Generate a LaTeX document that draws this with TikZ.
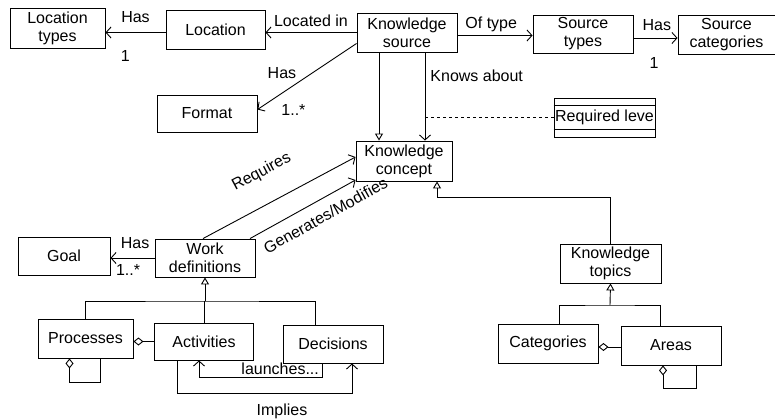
\documentclass[tikz,border=0pt]{standalone}
\usepackage{fontspec}
\setmainfont{Liberation Sans}
\usetikzlibrary{arrows.meta,positioning}

\begin{document}
\begin{tikzpicture}[x=1pt, y=-1pt, line width=0.9pt,
    classe/.style={draw, align=center, minimum width=100pt, minimum height=38pt,
      inner sep=1pt, font=\fontsize{16}{18}\selectfont},
    rot/.style={inner sep=1pt, font=\fontsize{16}{18}\selectfont},
    assoc/.style={-{Straight Barb[length=5pt,width=11pt]}},
    heranca/.style={-{Triangle[open,length=7pt,width=8pt]}},
    agreg/.style={{Diamond[open,length=10pt,width=8pt]}-}]
    \useasboundingbox (0,0) rectangle (775,419);
    % classes de cima
    \node[classe, minimum width=95pt, minimum height=40pt] (loctipos) at (57.5,28) {Location\\types};
    \node[classe, minimum width=99pt, minimum height=39pt] (loc) at (215.5,30) {Location};
    \node[classe, minimum height=39pt] (fonte) at (407,32.5) {Knowledge\\source};
    \node[classe] (fontetipos) at (583,34) {Source\\types};
    \node[classe, minimum width=97pt, minimum height=39pt] (fontecat) at (726.5,34.5) {Source\\categories};
    \node[classe, minimum height=37pt] (formato) at (207,113.5) {Format};
    \node[classe, minimum width=101pt, minimum height=39pt] (nivel) at (604.5,117.5) {Required leve};
    \draw ([yshift=-8pt]nivel.north west) -- ([yshift=-8pt]nivel.north east);
    \draw ([yshift=8pt]nivel.south west) -- ([yshift=8pt]nivel.south east);
    \node[classe, minimum width=96pt, minimum height=40pt] (conceito) at (404,161) {Knowledge\\concept};
    % classes do meio
    \node[classe, minimum width=92pt] (meta) at (64,256) {Goal};
    \node[classe] (trabalho) at (205,258) {Work\\definitions};
    \node[classe, minimum width=101pt, minimum height=39pt] (topicos) at (610.5,263.5) {Knowledge\\topics};
    % classes de baixo
    \node[classe, minimum width=95pt, minimum height=39pt] (proc) at (85.5,338.5) {Processes};
    \node[classe, minimum width=99pt, minimum height=37pt] (ativ) at (204,341.5) {Activities};
    \node[classe] (decis) at (333,344) {Decisions};
    \node[classe, minimum height=39pt] (categ) at (548,343.5) {Categories};
    \node[classe, minimum height=39pt] (areas) at (671,345.5) {Areas};

    % associacoes da fonte
    \draw[assoc] (fonte.west) -- (fonte.west -| loc.east)
      node[rot, pos=0.5, above=4pt] {Located in};
    \draw[assoc] (loc.west |- fonte.west) -- (fonte.west -| loctipos.east)
      node[rot, pos=0.5, above=8pt] {Has}
      node[rot, pos=0.67, below=17pt] {1};
    \draw[assoc] ([yshift=-11pt]fonte.west) -- ([yshift=4pt]formato.east)
      node[rot, pos=0.45, xshift=-30pt] {Has}
      node[rot, pos=1, xshift=36pt] {1..*};
    \draw[assoc] ([yshift=-3pt]fonte.east) -- ([yshift=-3pt]fonte.east -| fontetipos.west)
      node[rot, pos=0.45, above=2pt] {Of type};
    \draw[assoc] ([yshift=-4pt]fontetipos.east) -- ([yshift=-4pt]fontetipos.east -| fontecat.west)
      node[rot, pos=0.53, above=6pt] {Has}
      node[rot, pos=0.47, below=18pt] {1};
    % fonte -> conceito
    \draw[heranca] ([xshift=-28pt]fonte.south) -- ([xshift=-28pt]fonte.south |- conceito.north);
    \draw[assoc] ([xshift=18pt]fonte.south) -- ([xshift=18pt]fonte.south |- conceito.north)
      node[rot, pos=0.26, right=4pt] {Knows about}
      coordinate[pos=0.74] (kdash);
    \draw[dashed, line width=0.7pt] (kdash) -- (kdash -| nivel.west);

    % trabalho -> conceito
    \draw[assoc] ([xshift=-2pt]trabalho.north) -- ([yshift=4pt]conceito.west)
      node[rot, pos=0.48, sloped, above=22pt] {Requires};
    \draw[assoc] ([xshift=45pt]trabalho.north) -- ([yshift=-19pt]conceito.west)
      node[rot, pos=0.64, sloped, below=9pt] {Generates/Modifies};
    \draw[assoc] (trabalho.west) -- (trabalho.west -| meta.east)
      node[rot, pos=0.44, above=8pt] {Has}
      node[rot, pos=0.6, below=5pt] {1..*};

    % topicos -> conceito
    \coordinate (bc) at (437,197);
    \draw[heranca] (topicos.north) |- (bc) -- (bc |- conceito.south);

    % heranca de trabalho
    \coordinate (bt) at (204,301);
    \draw (proc.north) |- (bt) -| ([xshift=-18pt]decis.north);
    \draw (ativ.north) -- (ativ.north |- bt);
    \draw[heranca] (trabalho.south |- bt) -- (trabalho.south);
    % heranca de topicos
    \coordinate (bk) at (610,305);
    \draw ([xshift=11pt]categ.north) |- (bk) -| ([xshift=-11pt]areas.north);
    \draw[heranca] (bk) -- (topicos.south);

    % agregacoes
    \draw[agreg] (proc.east |- ativ.west) -- (ativ.west);
    \draw[agreg] ([xshift=-16pt]proc.south) -- ++(0,24) -| ([xshift=15pt]proc.south);
    \draw[agreg] (categ.east |- 0,347) -- (areas.west |- 0,347);
    \draw[agreg] ([xshift=-8pt]areas.south) -- ++(0,23) -| ([xshift=25pt]areas.south);

    % atividades e decisoes
    \draw[assoc] ([xshift=-11pt]decis.south) -- ++(0,14) -| ([xshift=-5pt]ativ.south)
      node[rot, pos=0.17, above=1pt] {launches...};
    \draw[assoc] ([xshift=-27pt]ativ.south) -- ++(0,33) -| ([xshift=19pt]decis.south)
      node[rot, pos=0.3, below=9pt] {Implies};
  \end{tikzpicture}
\end{document}
